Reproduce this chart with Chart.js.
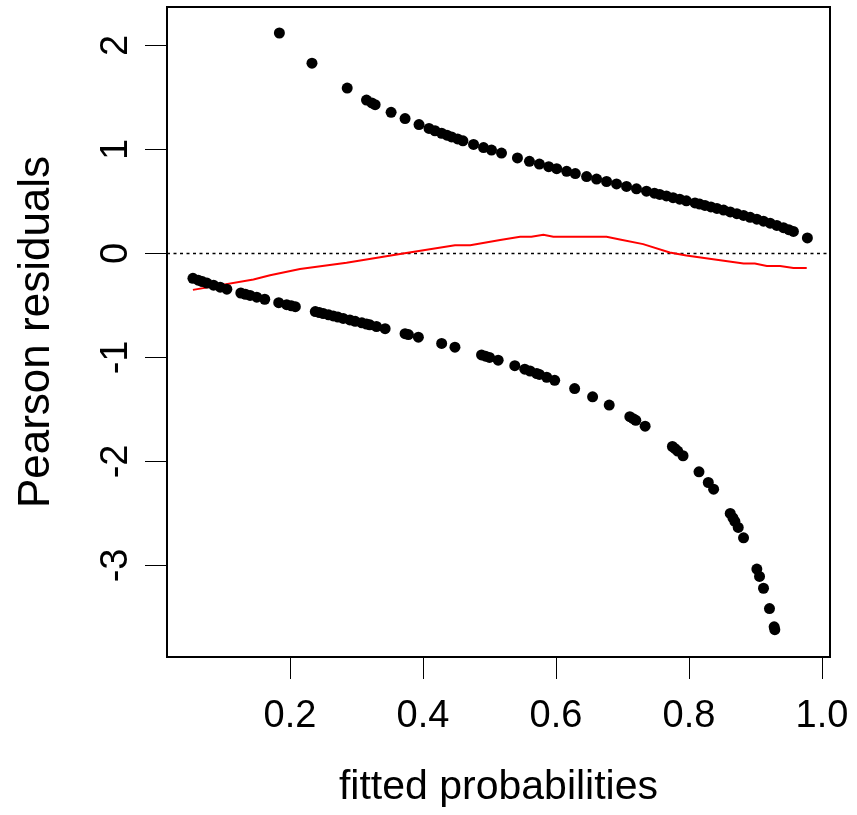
<!DOCTYPE html>
<html>
<head>
<meta charset="utf-8">
<script src="https://cdn.jsdelivr.net/npm/chart.js@4/dist/chart.umd.min.js"></script>
<style>
  html, body { margin: 0; padding: 0; background: #fff; }
  #wrap { width: 857px; height: 815px; }
</style>
</head>
<body>
<div id="wrap"><canvas id="residChart"></canvas></div>
<script>
// fitted probabilities / residuals for the y = 1 cases (upper band)
const upperX = [0.184, 0.233, 0.286, 0.315, 0.323, 0.328, 0.352, 0.373, 0.394, 0.409, 0.418, 0.428,
  0.436, 0.443, 0.452, 0.460, 0.476, 0.491, 0.503, 0.518, 0.542, 0.560, 0.575, 0.589, 0.601, 0.616,
  0.629, 0.646, 0.661, 0.676, 0.691, 0.706, 0.721, 0.736, 0.748, 0.756, 0.766, 0.776, 0.786, 0.796,
  0.809, 0.816, 0.824, 0.833, 0.842, 0.852, 0.862, 0.872, 0.882, 0.892, 0.902, 0.912, 0.922, 0.932,
  0.942, 0.950, 0.957, 0.978];
const upperY = [2.12, 1.83, 1.59, 1.475, 1.448, 1.431, 1.357, 1.297, 1.240, 1.202, 1.180, 1.156,
  1.137, 1.121, 1.101, 1.083, 1.049, 1.018, 0.994, 0.965, 0.919, 0.886, 0.860, 0.835, 0.815, 0.790,
  0.768, 0.740, 0.716, 0.692, 0.669, 0.645, 0.622, 0.599, 0.580, 0.568, 0.553, 0.537, 0.522, 0.506,
  0.486, 0.475, 0.462, 0.448, 0.433, 0.417, 0.400, 0.383, 0.366, 0.348, 0.330, 0.311, 0.291, 0.270,
  0.248, 0.229, 0.212, 0.150];

// y = 0 cases (lower band)
const lowerX = [0.054, 0.062, 0.068, 0.075, 0.085, 0.095, 0.105, 0.126, 0.133, 0.140, 0.150, 0.162,
  0.183, 0.195, 0.202, 0.208, 0.238, 0.244, 0.250, 0.258, 0.265, 0.272, 0.280, 0.290, 0.298, 0.308,
  0.315, 0.320, 0.330, 0.343, 0.373, 0.378, 0.393, 0.428, 0.448, 0.488, 0.494, 0.500, 0.513, 0.538,
  0.553, 0.561, 0.571, 0.575, 0.586, 0.598, 0.628, 0.655, 0.680, 0.711, 0.716, 0.720, 0.734, 0.775,
  0.779, 0.783, 0.791, 0.815, 0.829, 0.837, 0.862, 0.866, 0.869, 0.874, 0.882, 0.902, 0.906, 0.912,
  0.921, 0.928, 0.929];
const lowerY = [-0.239, -0.257, -0.270, -0.285, -0.305, -0.324, -0.343, -0.380, -0.392, -0.403, -0.420, -0.440,
  -0.473, -0.492, -0.503, -0.512, -0.559, -0.568, -0.577, -0.590, -0.600, -0.611, -0.624, -0.639, -0.652, -0.667,
  -0.678, -0.686, -0.702, -0.723, -0.771, -0.780, -0.805, -0.865, -0.901, -0.976, -0.988, -1.000, -1.026, -1.079,
  -1.112, -1.130, -1.154, -1.163, -1.190, -1.220, -1.299, -1.378, -1.458, -1.569, -1.588, -1.604, -1.661, -1.856,
  -1.877, -1.900, -1.945, -2.099, -2.202, -2.266, -2.499, -2.542, -2.576, -2.634, -2.734, -3.034, -3.105, -3.219,
  -3.414, -3.590, -3.617];

// red smoother
const smoothX = [0.054, 0.145, 0.170, 0.215, 0.285, 0.370, 0.448, 0.471, 0.516, 0.546, 0.563, 0.581, 0.596,
  0.676, 0.696, 0.731, 0.771, 0.796, 0.847, 0.882, 0.899, 0.917, 0.937, 0.957, 0.977];
const smoothY = [-0.35, -0.25, -0.21, -0.15, -0.09, 0.0, 0.08, 0.08, 0.13, 0.16, 0.16, 0.18, 0.16,
  0.16, 0.135, 0.09, 0.01, -0.02, -0.065, -0.096, -0.096, -0.12, -0.12, -0.14, -0.14];

const xTicks = [0.2, 0.4, 0.6, 0.8, 1.0];
const yTicks = [-3, -2, -1, 0, 1, 2];
const refLineY = 0;

const toPoints = (xs, ys) => xs.map((x, i) => ({ x: x, y: ys[i] }));

const FONT = "Liberation Sans, Arial, Helvetica, sans-serif";

// box around the plot region + dotted reference line
const boxPlugin = {
  id: "boxPlugin",
  beforeDatasetsDraw(chart) {
    const { ctx, chartArea: a, scales } = chart;
    const y0 = scales.y.getPixelForValue(refLineY);
    ctx.save();
    ctx.strokeStyle = "#000";
    ctx.lineWidth = 1.5;
    ctx.setLineDash([3, 3.5]);
    ctx.beginPath();
    ctx.moveTo(a.left, y0);
    ctx.lineTo(a.right, y0);
    ctx.stroke();
    ctx.restore();
  },
  afterDraw(chart) {
    const { ctx, chartArea: a } = chart;
    ctx.save();
    ctx.strokeStyle = "#000";
    ctx.lineWidth = 2;
    ctx.strokeRect(a.left, a.top, a.right - a.left, a.bottom - a.top);
    ctx.restore();
  },
};

// no extra label overflow padding, the plot box is fixed
const noPad = (s) => {
  s.paddingTop = 0;
  s.paddingBottom = 0;
  s.paddingLeft = 0;
  s.paddingRight = 0;
};

new Chart(document.getElementById("residChart"), {
  type: "scatter",
  data: {
    datasets: [
      {
        label: "upper",
        data: toPoints(upperX, upperY),
        pointRadius: 5.5,
        pointBackgroundColor: "#000",
        pointBorderWidth: 0,
      },
      {
        label: "lower",
        data: toPoints(lowerX, lowerY),
        pointRadius: 5.5,
        pointBackgroundColor: "#000",
        pointBorderWidth: 0,
      },
      {
        label: "smooth",
        type: "line",
        data: toPoints(smoothX, smoothY),
        borderColor: "#ff0000",
        borderWidth: 2,
        pointRadius: 0,
        tension: 0,
        fill: false,
      },
    ],
  },
  options: {
    responsive: true,
    maintainAspectRatio: false,
    animation: false,
    layout: { padding: { top: 7, right: 27, left: 0, bottom: 0 } },
    plugins: { legend: { display: false }, tooltip: { enabled: false } },
    scales: {
      x: {
        type: "linear",
        min: 0.015,
        max: 1.012,
        afterBuildTicks: (s) => { s.ticks = xTicks.map((v) => ({ value: v })); },
        afterFit: (s) => { s.height = 158; noPad(s); },
        grid: { drawOnChartArea: false, drawTicks: true, tickLength: 22, color: "#000", lineWidth: 1 },
        border: { display: false },
        ticks: {
          color: "#000",
          padding: 15,
          maxRotation: 0,
          font: { family: FONT, size: 38 },
          callback: (v) => v.toFixed(1),
        },
        title: {
          display: true,
          text: "fitted probabilities",
          color: "#000",
          font: { family: FONT, size: 41 },
          padding: { top: 0, bottom: 3 },
        },
      },
      y: {
        type: "linear",
        min: -3.88,
        max: 2.37,
        afterBuildTicks: (s) => { s.ticks = yTicks.map((v) => ({ value: v })); },
        afterFit: (s) => { s.width = 167; noPad(s); },
        grid: { drawOnChartArea: false, drawTicks: true, tickLength: 22, color: "#000", lineWidth: 1 },
        border: { display: false },
        ticks: {
          color: "#000",
          padding: 12,
          minRotation: 90,
          maxRotation: 90,
          crossAlign: "center",
          font: { family: FONT, size: 38 },
          callback: (v) => String(v),
        },
        title: {
          display: true,
          text: "Pearson residuals",
          color: "#000",
          font: { family: FONT, size: 44 },
          padding: { top: 10, bottom: 0 },
        },
      },
    },
  },
  plugins: [boxPlugin],
});
</script>
</body>
</html>
